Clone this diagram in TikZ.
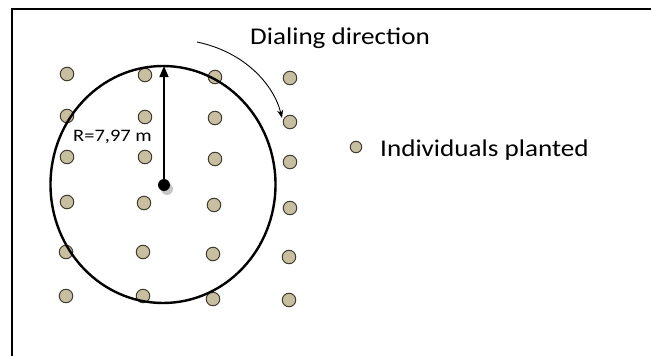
\documentclass[tikz,border=0pt]{standalone}
\usepackage{fontspec}
\setmainfont{Carlito}
\usetikzlibrary{arrows.meta,shapes.geometric}
\definecolor{dotfill}{RGB}{200,191,160}
\definecolor{dotedge}{RGB}{65,60,48}
\newcommand{\wtext}[3]{\scalebox{#1}[1]{\fontsize{#2}{#2}\selectfont #3}}
\tikzset{
  plant/.style={circle, draw=dotedge, fill=dotfill, line width=1pt, minimum size=13.5pt, inner sep=0pt},
  lbl/.style={inner sep=0pt, text=black}
}
\begin{document}
\begin{tikzpicture}[x=1pt,y=-1pt]
\useasboundingbox (0,0) rectangle (651,356);
% frame
\draw[line width=2pt] (651,9) -- (12,9) -- (12,356);
% planted individuals
\foreach \x/\y [count=\i] in {67/74,67/116,67/157,67/202,66/252,66/296,
  145/75,145/117,145/157,144/203,143/252,143/296,
  215/77,215/118,215/159,214/205,213/254,213/299,
  290/78,290/122,290/162,290/208,289/257,289/300}
  \node[plant] (p\i) at (\x,\y) {};
% circle
\node[draw, ellipse, line width=2.4pt, minimum width=225pt, minimum height=237pt, inner sep=0pt] (circ) at (163,184.5) {};
% center dot with shadow
\fill[gray!45] (167,189) circle (6pt);
\node[circle, fill=black, minimum size=12pt, inner sep=0pt] (c) at (164,185) {};
\coordinate (top) at (164,66);
\draw[line width=1.3pt, -{Triangle[width=9pt,length=11pt]}] (c.center) -- (top);
% radius label
\node[lbl, anchor=base west] (rl) at (73,141) {\wtext{1.17}{17.5pt}{R=7,97 m}};
% dialing direction
\node[lbl, anchor=base west] (dd) at (250,44) {\wtext{1.13}{24pt}{Dialing direction}};
\coordinate (as) at (197,42);
\coordinate (ae) at (282,118);
\draw[line width=0.9pt, -{Stealth[length=8pt,width=6pt]}] (as) .. controls (245,52) and (274,85) .. (ae);
% legend
\node[plant, minimum size=11.5pt] (leg) at (356,147) {};
\node[lbl, anchor=base west] (lt) at (380,156) {\wtext{1.13}{24pt}{Individuals planted}};
\end{tikzpicture}
\end{document}
